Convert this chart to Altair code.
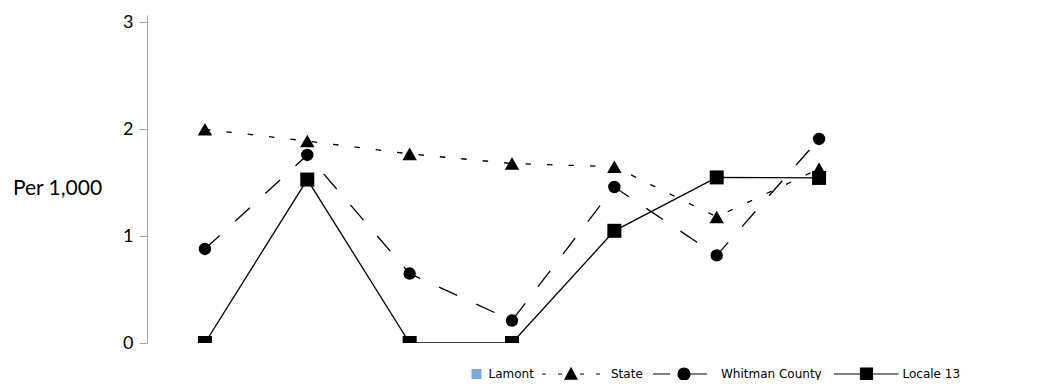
import altair as alt
import pandas as pd

# ---- data ----
periods = ["1", "2", "3", "4", "5", "6", "7"]
lamont = [0, 0, 0, 0, 0, 0, 0]
state = [2.00, 1.89, 1.77, 1.68, 1.65, 1.18, 1.63]
whitman = [0.88, 1.76, 0.65, 0.21, 1.46, 0.82, 1.91]
locale13 = [0.00, 1.53, 0.00, 0.00, 1.05, 1.55, 1.545]
series_names = ["Lamont", "State", "Whitman County", "Locale 13"]
y_ticks = [0, 1, 2, 3]

df = pd.DataFrame({
    "period": periods * 4,
    "series": sum([[s] * len(periods) for s in series_names], []),
    "value": lamont + state + whitman + locale13,
})

LEG_FONT = "DejaVu Sans"
AX_FONT = "Lato"

x = alt.X("period:O", sort=periods,
          scale=alt.Scale(type="point", padding=0.566), axis=None)
y = alt.Y("value:Q",
          scale=alt.Scale(domain=[0, 3.07], nice=False, zero=True),
          axis=alt.Axis(values=y_ticks, grid=False, domainColor="#a6a6a6",
                        tickColor="#a6a6a6", tickSize=8, labelPadding=6,
                        labelFont=AX_FONT, labelFontSize=18, labelColor="black",
                        title="Per 1,000", titleAngle=0, titleAlign="center",
                        titleBaseline="middle", titleX=-90, titleY=173,
                        titleFont=AX_FONT, titleFontSize=21,
                        titleFontWeight="normal", titleColor="black"))

base = alt.Chart(df)

LEG_Y = 352
LEG_FS = 12

def legend(lx, ly, path, size, loff, sw=1.2):
    return alt.Legend(orient="none", legendX=lx, legendY=ly, title=None,
                      symbolType=path, symbolSize=size,
                      symbolStrokeColor="black", symbolStrokeWidth=sw,
                      symbolOpacity=1, symbolOffset=0, labelOffset=loff,
                      labelFont=LEG_FONT, labelFontSize=LEG_FS, labelColor="black",
                      padding=0)

lamont_layer = base.transform_filter(alt.datum.series == "Lamont").mark_bar(clip=True).encode(
    x=x, y=y,
    fill=alt.Fill("series:N", scale=alt.Scale(domain=["Lamont"], range=["#7fa7dc"]),
                  legend=alt.Legend(orient="none", legendX=323.5, legendY=LEG_Y + 1,
                                    title=None, symbolType="square", symbolSize=100,
                                    symbolStrokeWidth=0, symbolOpacity=1, symbolOffset=0,
                                    labelOffset=6, labelFont=LEG_FONT, labelFontSize=LEG_FS,
                                    labelColor="black", padding=0)))

STATE_PATH = ("M-4.83,0L-4.17,0M-2.17,0L-1.5,0M1.5,0L2.17,0M4.17,0L4.83,0"
              "M0,-1L1,0.85L-1,0.85Z")
WHIT_PATH = "M-5.17,0L-2.33,0M0,0L3.83,0M-1,0A1,1,0,1,0,1,0A1,1,0,1,0,-1,0Z"
LOC_PATH = "M-5.42,0L5.33,0M-1,-1L1,-1L1,1L-1,1Z"

def series_layers(name, shape, size, leg, dash=None):
    sub = base.transform_filter(alt.datum.series == name)
    line_kw = dict(color="black", strokeWidth=1.3, clip=True)
    if dash:
        line_kw["strokeDash"] = dash
    line = sub.mark_line(**line_kw).encode(x=x, y=y)
    pts = sub.mark_point(filled=True, shape=shape, size=size, opacity=1, clip=True).encode(
        x=x, y=y,
        fill=alt.Fill("series:N", scale=alt.Scale(domain=[name], range=["black"]),
                      legend=leg))
    return [line, pts]

layers = [lamont_layer]
layers += series_layers("State", "triangle-up", 210,
                        legend(417, LEG_Y, STATE_PATH, 144, 33), dash=[5.5, 16])
layers += series_layers("Whitman County", "circle", 154,
                        legend(530, LEG_Y, WHIT_PATH, 144, 30), dash=[20, 21])
layers += series_layers("Locale 13", "square", 196,
                        legend(712.5, LEG_Y, LOC_PATH, 144, 29))

chart = alt.layer(*layers).resolve_scale(fill="independent").resolve_legend(
    fill="independent").properties(
    width=730, height=328,
    padding={"left": 139, "top": 7, "right": 173, "bottom": 37},
    autosize=alt.AutoSizeParams(type="none"),
    background="white",
).configure_view(stroke=None)

chart.save("out.html", embed_options={"renderer": "svg", "actions": False})
